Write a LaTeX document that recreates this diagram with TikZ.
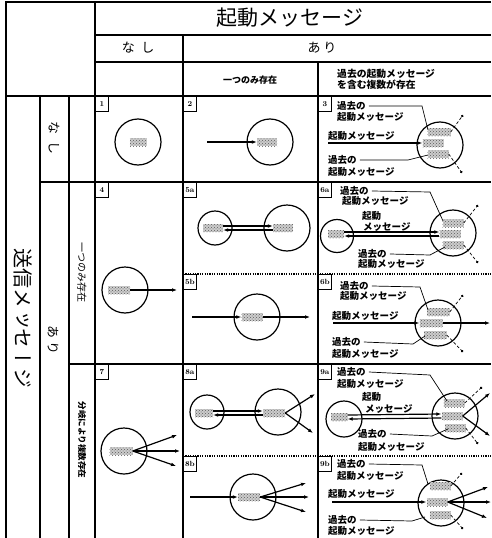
\documentclass[tikz,border=0pt]{standalone}
\usepackage{fontspec}
\newfontfamily\jp{Noto Sans CJK JP}
\newfontfamily\jpv[Vertical=RotatedGlyphs]{Noto Sans CJK JP}
\usetikzlibrary{arrows.meta,patterns}

\tikzset{
  rule/.style={line width=1.3pt},
  dotrule/.style={line width=1.3pt, dash pattern=on 1.2pt off 1.2pt},
  ball/.style={draw, circle, line width=1.2pt, inner sep=0pt, minimum size=46pt},
  smallball/.style={ball, minimum size=34pt},
  msg/.style={fill=gray!40, inner sep=0pt, minimum height=8pt, minimum width=21pt,
    postaction={pattern=crosshatch dots, pattern color=gray!70!black}},
  sig/.style={line width=1.2pt, -{Latex[length=5pt,width=3.8pt]}},
  pastsig/.style={line width=.7pt, densely dashed, -{Circle[length=2.4pt]}},
  leader/.style={line width=.7pt},
  tag/.style={draw, line width=.8pt, anchor=north west, inner sep=1pt,
    minimum width=13pt, minimum height=15pt, font=\rmfamily\bfseries\fontsize{7.5}{7.5}\selectfont},
  lbl/.style={anchor=west, inner sep=0pt, font=\jp\bfseries\fontsize{9.5}{10}\selectfont},
}

\begin{document}
\begin{tikzpicture}[x=1pt,y=-1pt]
  \useasboundingbox (0,0) rectangle (491,538);

% GRID ========================================================================
  \draw[rule] (6,538) to (6,2) to (491,2);
  \draw[rule] (95,2) to (95,538);
  \draw[rule] (40,96) to (40,538);
  \draw[rule] (69,96) to (69,538);
  \draw[rule] (183,35) to (183,538);
  \draw[rule] (318,62) to (318,538);
  \draw[rule] (95,35) to (491,35);
  \draw[rule] (95,62) to (491,62);
  \draw[rule] (6,96) to (491,96);
  \draw[rule] (40,182) to (491,182);
  \draw[rule] (69,364) to (491,364);
  \draw[dotrule] (183,274) to (491,274);
  \draw[dotrule] (183,456) to (491,456);

% HEADER TEXT =================================================================
  \node[font=\jp\fontsize{21}{21}\selectfont] (hkido) at (290,18) {起動メッセージ};
  \node[font=\jp\fontsize{13}{13}\selectfont] (hnashi) at (138,48) {な\hspace{.5em}し};
  \node[font=\jp\fontsize{13}{13}\selectfont] (hari) at (322,48) {あ\hspace{.2em}り};
  \node[font=\jp\bfseries\fontsize{9}{9}\selectfont] (hone) at (250,80) {一つのみ存在};
  \node[anchor=west, inner sep=0pt, align=left, font=\jp\bfseries\fontsize{9.8}{9}\selectfont]
    (hmany) at (337,79) {過去の起動メッセージ\\を含む複数が存在};

% VERTICAL TEXT ===============================================================
  \node[rotate=-90, font=\jpv\fontsize{20}{20}\selectfont] (vsend) at (23,318) {送信メッセージ};
  \node[rotate=-90, font=\jpv\fontsize{13}{13}\selectfont] (vnashi) at (54,138) {な\hspace{.5em}し};
  \node[rotate=-90, font=\jpv\fontsize{13}{13}\selectfont] (vari) at (53,340) {あ\hspace{.2em}り};
  \node[rotate=-90, font=\jpv\fontsize{10}{10}\selectfont] (vone) at (82,272) {一つのみ存在};
  \node[rotate=-90, font=\jpv\bfseries\fontsize{8.5}{8.5}\selectfont] (vmany) at (82,440) {分岐により複数存在};

% CELL TAGS ===================================================================
  \foreach \tx/\ty/\tn in {95/96/1, 183/96/2, 318/96/3, 95/182/4, 183/182/5a,
      318/182/6a, 183/274/5b, 318/274/6b, 95/364/7, 183/364/8a, 318/364/9a,
      183/456/8b, 318/456/9b} {
    \node[tag] (tag\tn) at (\tx,\ty) {\tn};
  }

% ROW 1 =======================================================================
  % 1
  \node[ball] (c1) at (138,142) {};
  \node[msg, minimum width=17pt] (b1) at (138,142) {};
  % 2
  \node[ball] (c2) at (270,142) {};
  \node[msg, minimum width=20pt] (b2) at (267,142) {};
  \coordinate (a2) at (207,142);
  \draw[sig] (a2) to (b2.west);
  % 3
  \node[ball] (c3) at (440,145) {};
  \node[msg, minimum width=23pt] (b3t) at (439,132) {};
  \node[msg] (b3m) at (433,143) {};
  \node[msg] (b3b) at (438,154) {};
  \node[lbl] (l3a) at (337,106) {過去の};
  \node[lbl] (l3b) at (337,117) {起動メッセージ};
  \node[lbl] (l3c) at (328,136) {起動メッセージ};
  \node[lbl] (l3d) at (328,160) {過去の};
  \node[lbl] (l3e) at (328,172) {起動メッセージ};
  \coordinate (a3) at (328,143);
  \draw[sig] (a3) to (b3m.west);
  \draw[leader] ([xshift=3pt]l3a.east) to (422,106) to (428,130);
  \draw[leader] ([xshift=3pt]l3d.east) to (408,160) to (428,155);
  \draw[pastsig] (b3t.east) to (463,115);
  \draw[pastsig] (b3b.east) to (462,173);

% ROW 2 =======================================================================
  % 4
  \node[ball] (c4) at (125,290) {};
  \node[msg, minimum width=22pt] (b4) at (119,290) {};
  \draw[sig] (b4.east) to (177,290);
  % 5a
  \node[smallball] (c5l) at (215,228) {};
  \node[ball] (c5r) at (287,228) {};
  \node[msg, minimum width=20pt] (b5l) at (213,228) {};
  \node[msg, minimum width=20pt] (b5r) at (283,228) {};
  \draw[sig] ([yshift=2pt]b5l.east) to ([yshift=2pt]b5r.west);
  \draw[sig] ([yshift=-2pt]b5r.west) to ([yshift=-2pt]b5l.east);
  % 5b
  \node[ball] (c5b) at (257,317) {};
  \node[msg] (b5b) at (252,317) {};
  \coordinate (a5b) at (192,317);
  \draw[sig] (a5b) to (b5b.west);
  \draw[sig] (b5b.east) to (310,317);
  % 6a
  \node[smallball, minimum size=33pt] (c6l) at (337,236) {};
  \node[ball] (c6r) at (453,233) {};
  \node[msg, minimum width=16pt] (b6l) at (336,234) {};
  \node[msg] (b6t) at (453,223) {};
  \node[msg] (b6m) at (450,234) {};
  \node[msg] (b6b) at (453,245) {};
  \draw[sig] ([yshift=2pt]b6l.east) to ([yshift=2pt]b6m.west);
  \draw[sig] ([yshift=-2pt]b6m.west) to ([yshift=-2pt]b6l.east);
  \node[lbl] (l6a) at (340,191) {過去の};
  \node[lbl] (l6b) at (342,201) {起動メッセージ};
  \node[lbl] (l6c) at (362,216) {起動};
  \node[lbl] (l6d) at (363,227) {メッセージ};
  \node[lbl] (l6e) at (358,254) {過去の};
  \node[lbl] (l6f) at (358,264) {起動メッセージ};
  \draw[leader] ([xshift=3pt]l6a.east) to (430,192) to (443,221);
  \draw[leader] ([xshift=3pt]l6e.east) to (430,255) to (445,247);
  \draw[pastsig] (b6t.east) to (478,205);
  \draw[pastsig] (b6b.east) to (478,263);
  % 6b
  \node[ball] (c6b) at (438,323) {};
  \node[msg, minimum width=23pt] (b6bt) at (438,312) {};
  \node[msg, minimum width=23pt] (b6bm) at (431,323) {};
  \node[msg, minimum width=23pt] (b6bb) at (435,335) {};
  \node[lbl] (l6g) at (340,286) {過去の};
  \node[lbl] (l6h) at (340,296) {起動メッセージ};
  \node[lbl] (l6i) at (332,316) {起動メッセージ};
  \node[lbl] (l6j) at (332,342) {過去の};
  \node[lbl] (l6k) at (332,354) {起動メッセージ};
  \coordinate (a6b) at (333,323);
  \draw[sig] (a6b) to (b6bm.west);
  \draw[sig] (b6bm.east) to (490,323);
  \draw[leader] ([xshift=3pt]l6g.east) to (420,287) to (428,310);
  \draw[leader] ([xshift=3pt]l6j.east) to (413,344) to (425,336);
  \draw[pastsig] (b6bt.east) to (463,295);
  \draw[pastsig] (b6bb.east) to (463,352);

% ROW 3 =======================================================================
  % 7
  \node[ball] (c7) at (124,451) {};
  \node[msg, minimum width=23pt] (b7) at (121,451) {};
  \draw[sig] (b7.east) to (177,435);
  \draw[sig] (b7.east) to (180,451);
  \draw[sig] (b7.east) to (176,466);
  % 8a
  \node[smallball] (c8l) at (207,412) {};
  \node[ball] (c8r) at (278,412) {};
  \node[msg, minimum width=18pt] (b8l) at (204,413) {};
  \node[msg, minimum width=22pt] (b8r) at (274,413) {};
  \draw[sig] ([yshift=2pt]b8l.east) to ([yshift=2pt]b8r.west);
  \draw[sig] ([yshift=-2pt]b8r.west) to ([yshift=-2pt]b8l.east);
  \draw[sig] (b8r.east) to (315,394);
  \draw[sig] (b8r.east) to (313,433);
  % 8b
  \node[ball] (c8b) at (253,497) {};
  \node[msg, minimum width=22pt] (b8b) at (249,497) {};
  \coordinate (a8b) at (190,497);
  \draw[sig] (a8b) to (b8b.west);
  \draw[sig] (b8b.east) to (306,483);
  \draw[sig] (b8b.east) to (309,497);
  \draw[sig] (b8b.east) to (306,512);
  % 9a
  \node[smallball, minimum size=36pt] (c9l) at (344,419) {};
  \node[ball] (c9r) at (455,416) {};
  \node[msg, minimum width=17pt] (b9l) at (339,417) {};
  \node[msg] (b9t) at (454,403) {};
  \node[msg] (b9m) at (452,416) {};
  \node[msg] (b9b) at (455,428) {};
  \draw[sig] ([yshift=2pt]b9l.east) to ([yshift=2pt]b9m.west);
  \draw[sig] ([yshift=-2pt]b9m.west) to ([yshift=-2pt]b9l.east);
  \draw[sig] (b9m.east) to (490,393);
  \draw[sig] (b9m.east) to (490,436);
  \node[lbl] (l9a) at (337,372) {過去の};
  \node[lbl] (l9b) at (337,384) {起動メッセージ};
  \node[lbl] (l9c) at (362,397) {起動};
  \node[lbl] (l9d) at (365,409) {メッセージ};
  \node[lbl] (l9e) at (358,434) {過去の};
  \node[lbl] (l9f) at (358,447) {起動メッセージ};
  \draw[leader] ([xshift=3pt]l9a.east) to (430,375) to (447,401);
  \draw[leader] ([xshift=3pt]l9e.east) to (432,436) to (448,429);
  \draw[pastsig] (b9t.east) to (482,387);
  \draw[pastsig] (b9b.east) to (478,444);
  % 9b
  \node[ball] (c9b) at (441,503) {};
  \node[msg] (b9bt) at (440,486) {};
  \node[msg] (b9bm) at (437,502) {};
  \node[msg] (b9bb) at (440,515) {};
  \node[lbl] (l9g) at (337,464) {過去の};
  \node[lbl] (l9h) at (337,476) {起動メッセージ};
  \node[lbl] (l9i) at (328,494) {起動メッセージ};
  \node[lbl] (l9j) at (328,520) {過去の};
  \node[lbl] (l9k) at (328,531) {起動メッセージ};
  \coordinate (a9b) at (332,502);
  \draw[sig] (a9b) to (b9bm.west);
  \draw[sig] (b9bm.east) to (488,487);
  \draw[sig] (b9bm.east) to (491,502);
  \draw[sig] (b9bm.east) to (487,518);
  \draw[leader] ([xshift=3pt]l9g.east) to (422,465) to (428,484);
  \draw[leader] ([xshift=3pt]l9j.east) to (412,521) to (425,517);
  \draw[pastsig] (b9bt.east) to (462,473);
  \draw[pastsig] (b9bb.east) to (463,529);

\end{tikzpicture}
\end{document}
